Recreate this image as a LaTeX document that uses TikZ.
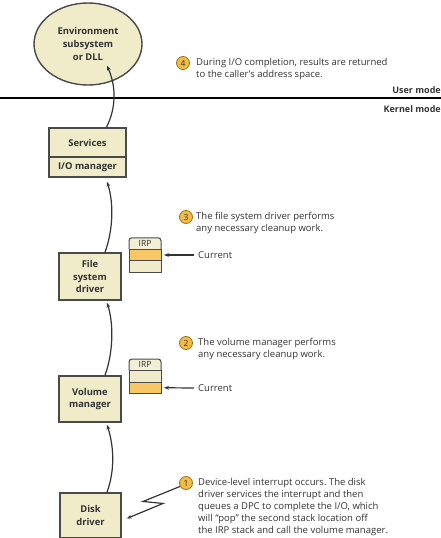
\documentclass[tikz,border=0pt]{standalone}
\usepackage{fontspec}
\setmainfont{Open Sans}
\frenchspacing
\usetikzlibrary{arrows.meta,shapes.geometric}
\definecolor{boxfill}{HTML}{F0ECCA}
\definecolor{irphead}{HTML}{F2EFD6}
\definecolor{current}{HTML}{F7C766}
\definecolor{badgefill}{HTML}{F2BC45}
\definecolor{badgeedge}{HTML}{9A7418}
\definecolor{edge}{HTML}{4A4A4A}
\definecolor{ink}{HTML}{333333}

\begin{document}
\begin{tikzpicture}[x=1pt,y=-1pt,>={Stealth[length=5pt,width=3.8pt]},
	layer/.style={draw=edge,fill=boxfill,line width=1.4pt,font=\bfseries\fontsize{9.4}{12.8}\selectfont,align=center,inner sep=0pt,text=ink},
	irprow/.style={draw=edge,line width=1pt,minimum width=32pt,minimum height=11.5pt,inner sep=0pt,outer sep=0pt},
	badge/.style={circle,draw=badgeedge,fill=badgefill,line width=0.8pt,minimum size=13pt,inner sep=0pt,font=\fontsize{8.5}{8.5}\selectfont,text=ink},
	note/.style={anchor=north west,align=left,inner sep=0pt,font=\fontsize{9.5}{12}\selectfont,text=ink},
	flow/.style={->,line width=1.2pt,draw=ink}]
			\useasboundingbox (0,0) rectangle (441,538);

			\coordinate (ml) at (0,98);
			\coordinate (mr) at (441,98);
			\draw[line width=2.6pt,black] (ml)--(mr);
			\node[font=\bfseries\fontsize{9}{10}\selectfont,text=ink,anchor=base east,inner sep=0pt] (user) at (441,93) {User mode};
			\node[font=\bfseries\fontsize{9}{10}\selectfont,text=ink,anchor=base east,inner sep=0pt] (kernel) at (441,112) {Kernel mode};

			\node[layer,ellipse,minimum width=108pt,minimum height=82pt] (env) at (88,44) {Environment\\subsystem\\or DLL};
			\node[layer,minimum width=77pt,minimum height=29pt] (svc) at (87.5,142.5) {Services};
			\node[layer,minimum width=77pt,minimum height=20pt] (iom) at (87.5,167) {I/O manager};
			\node[layer,minimum width=62pt,minimum height=47pt] (fsd) at (90,276.5) {File\\system\\driver};
			\node[layer,minimum width=62pt,minimum height=46pt] (vol) at (90,399) {Volume\\manager};
			\node[layer,minimum width=61pt,minimum height=45pt] (disk) at (90.5,515.5) {Disk\\driver};

			\draw[flow] ([xshift=19pt]svc.north) .. controls +(10,-20) and +(9,20) .. ([xshift=19pt,yshift=20pt]env.south);
			\draw[flow] ([xshift=15pt]fsd.north) .. controls +(8,-22) and +(7,22) .. ([xshift=19.5pt,yshift=-4pt]iom.south);
			\draw[flow] ([xshift=15pt]vol.north) .. controls +(8,-22) and +(7,22) .. ([xshift=17pt,yshift=-2pt]fsd.south);
			\draw[flow] ([xshift=16.5pt]disk.north) .. controls +(8,-22) and +(7,22) .. ([xshift=17pt,yshift=-2pt]vol.south);

			\node[irprow,fill=irphead,draw=none,font=\fontsize{8.5}{8}\selectfont,text=ink] (irpa) at (145,243.5) {IRP};
			\node[irprow,fill=current] (irpa1) at (145,255) {};
			\node[irprow,fill=boxfill] (irpa2) at (145,266.5) {};
			\draw[edge,line width=1pt,rounded corners=3pt] (irpa.south west) |- (irpa.north) -| (irpa.south east);
			\node[note,anchor=west] (cura) at (198,255) {Current};
			\draw[flow] ([xshift=-4pt]cura.west)--([xshift=3pt]irpa1.east);

			\node[irprow,fill=irphead,draw=none,font=\fontsize{8.5}{8}\selectfont,text=ink] (irpb) at (145,364.75) {IRP};
			\node[irprow,fill=boxfill] (irpb1) at (145,376.25) {};
			\node[irprow,fill=current] (irpb2) at (145,387.75) {};
			\draw[edge,line width=1pt,rounded corners=3pt] (irpb.south west) |- (irpb.north) -| (irpb.south east);
			\node[note,anchor=west] (curb) at (198,388) {Current};
			\draw[flow] ([xshift=-4pt]curb.west)--([xshift=3pt]irpb2.east);

			\node[badge] (b4) at (183,63) {4};
			\node[note] (note4) at (196,58) {During I/O completion, results are returned\\to the caller’s address space.};
			\node[badge] (b3) at (186,217) {3};
			\node[note] (note3) at (196,212) {The file system driver performs\\any necessary cleanup work.};
			\node[badge] (b2) at (186,343) {2};
			\node[note] (note2) at (198,338) {The volume manager performs\\any necessary cleanup work.};
			\node[badge] (b1) at (186,483) {1};
			\node[note] (note1) at (198,478) {Device-level interrupt occurs. The disk\\driver services the interrupt and then\\queues a DPC to complete the I/O, which\\will “pop” the second stack location off\\the IRP stack and call the volume manager.};

			\draw[flow] (b1.210)--++(-37,15)--++(20,2)--([xshift=5pt,yshift=-3pt]disk.east);
		\end{tikzpicture}
\end{document}
